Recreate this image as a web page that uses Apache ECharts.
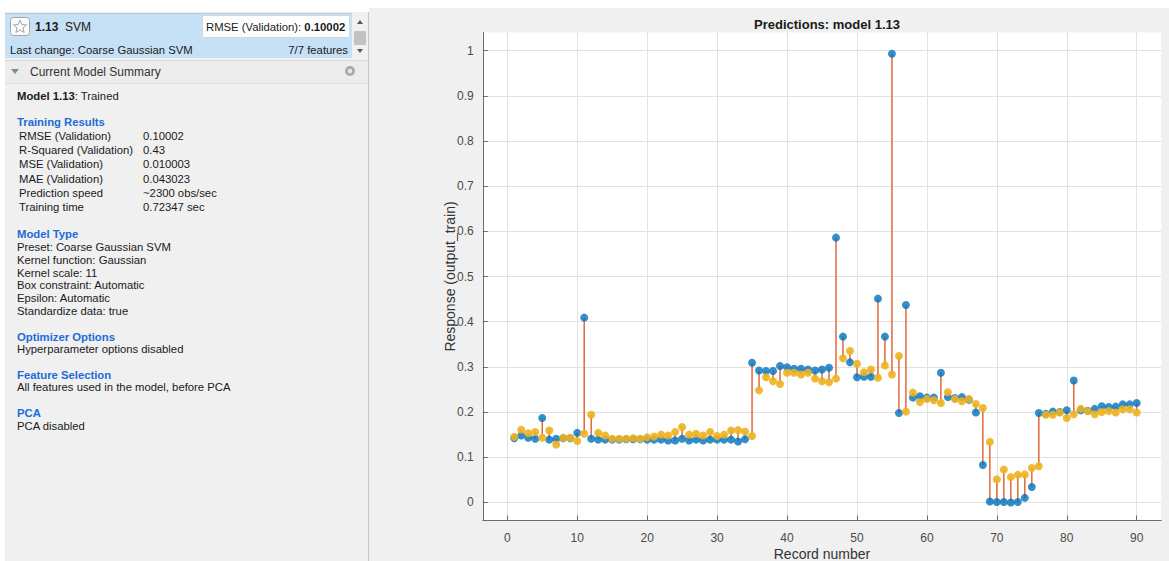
<!DOCTYPE html>
<html>
<head>
<meta charset="utf-8">
<title>Predictions: model 1.13</title>
<script src="https://cdn.jsdelivr.net/npm/echarts@6/dist/echarts.min.js"></script>
<style>
  html, body { margin: 0; padding: 0; background: #fff; }
  body { width: 1169px; height: 561px; overflow: hidden; position: relative;
         font-family: "Liberation Sans", Arial, sans-serif; color: #1a1a1a; }
  #left { position: absolute; left: 5px; top: 12px; width: 363px; height: 549px;
          background: #f0f0f0; border-right: 1px solid #c8c8c8; }
  #hdr { position: absolute; left: 5px; top: 13px; width: 347px; height: 44px;
         background: #c6e0f5; border-top: 1px solid #b5c9d9; }
  #scroll { position: absolute; left: 352px; top: 13px; width: 16px; height: 45px; background: #f0f0f0; }
  .t { position: absolute; white-space: nowrap; font-size: 11.3px; line-height: 14px; height: 14px; }
  .b { font-weight: bold; }
  .h { font-weight: bold; color: #1c6cd6; }
  #right { position: absolute; left: 369px; top: 8px; width: 800px; height: 553px; background: #f0f0f0; }
  #chart { position: absolute; left: 369px; top: 8px; width: 800px; height: 553px; }
  #sumrow { position: absolute; left: 5px; top: 60px; width: 363px; height: 22px; background: #ececec;
            border-top: 1px solid #d8d8d8; border-bottom: 1px solid #dedede; }
</style>
</head>
<body>
<div id="left"></div>
<div id="hdr"></div>
<div id="scroll">
  <svg width="16" height="45" style="position:absolute;left:0;top:0">
    <polygon points="5,11 11,11 8,7" fill="#555"/>
    <rect x="2" y="18" width="12" height="14" fill="#c2c2c2"/>
    <polygon points="5,36 11,36 8,40" fill="#555"/>
  </svg>
</div>
<!-- favourite star button -->
<svg width="21" height="20" style="position:absolute;left:10px;top:17px">
  <rect x="0.5" y="0.5" width="19" height="18" rx="3" ry="3" fill="#fbfbfb" stroke="#a5a5a5"/>
  <polygon points="10,3.2 11.9,7.6 16.5,7.9 13,10.9 14.1,15.4 10,13 5.9,15.4 7,10.9 3.5,7.9 8.1,7.6"
           fill="none" stroke="#9a9a9a" stroke-width="0.9"/>
</svg>
<div class="t" style="left:35px;top:20px;font-size:12px"><span class="b">1.13</span>&nbsp; SVM</div>
<div style="position:absolute;left:202px;top:15px;width:146px;height:21px;background:#fff;border:1px solid #cfd8e0"></div>
<div class="t" style="left:206px;top:20px;font-size:11.3px">RMSE (Validation): <span class="b">0.10002</span></div>
<div class="t" style="left:10px;top:43px">Last change: Coarse Gaussian SVM</div>
<div class="t" style="left:248px;width:100px;text-align:right;top:43px">7/7 features</div>

<div id="sumrow"></div>
<svg width="10" height="8" style="position:absolute;left:10px;top:68px"><polygon points="1,1 9,1 5,6" fill="#8a8a8a"/></svg>
<div class="t" style="left:30px;top:65px;font-size:12px;color:#333">Current Model Summary</div>
<svg width="12" height="12" style="position:absolute;left:344px;top:65px">
  <circle cx="6" cy="6" r="5" fill="#a9a9a9"/><circle cx="6" cy="6" r="2.2" fill="#e8e8e8"/>
</svg>

<div class="t" style="left:17px;top:89px"><span class="b">Model 1.13</span>: Trained</div>

<div class="t h" style="left:17px;top:115px">Training Results</div>
<div class="t" style="left:19px;top:129px">RMSE (Validation)</div><div class="t" style="left:143px;top:129px">0.10002</div>
<div class="t" style="left:19px;top:143px">R-Squared (Validation)</div><div class="t" style="left:143px;top:143px">0.43</div>
<div class="t" style="left:19px;top:157px">MSE (Validation)</div><div class="t" style="left:143px;top:157px">0.010003</div>
<div class="t" style="left:19px;top:172px">MAE (Validation)</div><div class="t" style="left:143px;top:172px">0.043023</div>
<div class="t" style="left:19px;top:186px">Prediction speed</div><div class="t" style="left:143px;top:186px">~2300 obs/sec</div>
<div class="t" style="left:19px;top:200px">Training time</div><div class="t" style="left:143px;top:200px">0.72347 sec</div>

<div class="t h" style="left:17px;top:227px">Model Type</div>
<div class="t" style="left:17px;top:240px">Preset: Coarse Gaussian SVM</div>
<div class="t" style="left:17px;top:253px">Kernel function: Gaussian</div>
<div class="t" style="left:17px;top:266px">Kernel scale: 11</div>
<div class="t" style="left:17px;top:278px">Box constraint: Automatic</div>
<div class="t" style="left:17px;top:291px">Epsilon: Automatic</div>
<div class="t" style="left:17px;top:304px">Standardize data: true</div>

<div class="t h" style="left:17px;top:330px">Optimizer Options</div>
<div class="t" style="left:17px;top:342px">Hyperparameter options disabled</div>

<div class="t h" style="left:17px;top:368px">Feature Selection</div>
<div class="t" style="left:17px;top:380px">All features used in the model, before PCA</div>

<div class="t h" style="left:17px;top:406px">PCA</div>
<div class="t" style="left:17px;top:419px">PCA disabled</div>

<div id="right"></div>
<div id="chart"></div>

<script>
// Record numbers of the training observations
const recordNumbers = [
  1, 2, 3, 4, 5, 6, 7, 8, 9, 10, 11, 12, 13, 14, 15, 16, 17, 18, 19, 20,
  21, 22, 23, 24, 25, 26, 27, 28, 29, 30, 31, 32, 33, 34, 35, 36, 37, 38, 39, 40,
  41, 42, 43, 44, 45, 46, 47, 48, 49, 50, 51, 52, 53, 54, 55, 56, 57, 58, 59, 60,
  61, 62, 63, 64, 65, 66, 67, 68, 69, 70, 71, 72, 73, 74, 75, 76, 77, 78, 79, 80,
  81, 82, 83, 84, 85, 86, 87, 88, 89, 90
];

// True response (output_train)
const trueResponse = [
  0.142, 0.148, 0.143, 0.141, 0.187, 0.139, 0.141, 0.142, 0.142, 0.154,
  0.409, 0.141, 0.139, 0.139, 0.139, 0.139, 0.140, 0.140, 0.140, 0.139,
  0.139, 0.139, 0.137, 0.137, 0.141, 0.137, 0.139, 0.137, 0.139, 0.139,
  0.139, 0.139, 0.135, 0.140, 0.309, 0.292, 0.291, 0.291, 0.302, 0.299,
  0.296, 0.296, 0.294, 0.292, 0.294, 0.298, 0.586, 0.367, 0.310, 0.277,
  0.278, 0.278, 0.451, 0.367, 0.993, 0.198, 0.437, 0.232, 0.235, 0.232,
  0.232, 0.287, 0.233, 0.231, 0.233, 0.227, 0.199, 0.083, 0.002, 0.001,
  0.001, 0.000, 0.001, 0.010, 0.034, 0.198, 0.196, 0.201, 0.200, 0.204,
  0.270, 0.204, 0.203, 0.207, 0.213, 0.211, 0.212, 0.217, 0.217, 0.220
];

// Predicted response of model 1.13 (Coarse Gaussian SVM)
const predictedResponse = [
  0.145, 0.161, 0.153, 0.156, 0.143, 0.159, 0.128, 0.143, 0.143, 0.136,
  0.152, 0.194, 0.154, 0.148, 0.141, 0.141, 0.141, 0.142, 0.141, 0.144,
  0.146, 0.150, 0.148, 0.156, 0.167, 0.150, 0.152, 0.148, 0.156, 0.147,
  0.150, 0.159, 0.160, 0.157, 0.147, 0.248, 0.277, 0.268, 0.262, 0.287,
  0.287, 0.283, 0.287, 0.274, 0.268, 0.266, 0.274, 0.319, 0.335, 0.307,
  0.288, 0.294, 0.276, 0.303, 0.283, 0.324, 0.201, 0.243, 0.222, 0.229,
  0.226, 0.220, 0.244, 0.229, 0.224, 0.229, 0.218, 0.209, 0.134, 0.051,
  0.073, 0.056, 0.061, 0.062, 0.076, 0.080, 0.194, 0.194, 0.199, 0.187,
  0.195, 0.207, 0.202, 0.195, 0.200, 0.202, 0.199, 0.206, 0.206, 0.199
];

// Axis tick values
const xTicks = [0, 10, 20, 30, 40, 50, 60, 70, 80, 90];
const yTicks = [0, 0.1, 0.2, 0.3, 0.4, 0.5, 0.6, 0.7, 0.8, 0.9, 1];

const trueData = recordNumbers.map((r, i) => [r, trueResponse[i]]);
const predData = recordNumbers.map((r, i) => [r, predictedResponse[i]]);
const errData = recordNumbers.map((r, i) => [r, trueResponse[i], predictedResponse[i]]);

const axisColor = '#6b6b6b';
const labelColor = '#4a4a4a';
const gridColor = '#e2e2e2';

const chart = echarts.init(document.getElementById('chart'), null, { renderer: 'svg' });

chart.setOption({
  animation: false,
  backgroundColor: 'transparent',
  title: {
    text: 'Predictions: model 1.13',
    left: 453,
    top: 5,
    textAlign: 'center',
    textStyle: { fontFamily: 'Liberation Sans', fontSize: 13, fontWeight: 'bold', color: '#1a1a1a' }
  },
  grid: {
    left: 113.8, right: 7.8, top: 24.5, bottom: 40.5,
    outerBoundsMode: 'none',
    containLabel: false,
    show: true, backgroundColor: '#ffffff', borderWidth: 0
  },
  xAxis: {
    type: 'value',
    min: -3.5, max: 93.5,
    name: 'Record number',
    nameLocation: 'middle',
    nameGap: 26,
    nameMoveOverlap: false,
    nameTextStyle: { fontFamily: 'Liberation Sans', fontSize: 14, color: '#333' },
    axisLine: { show: true, onZero: false, lineStyle: { color: axisColor, width: 1 } },
    axisTick: { show: true, inside: true, length: 5, customValues: xTicks, lineStyle: { color: axisColor } },
    axisLabel: {
      customValues: xTicks, margin: 11, color: labelColor,
      fontFamily: 'Liberation Sans', fontSize: 12
    },
    splitLine: { show: true, lineStyle: { color: gridColor, width: 1 } }
  },
  yAxis: {
    type: 'value',
    min: -0.04, max: 1.04,
    name: 'Response (output_train)',
    nameLocation: 'middle',
    nameGap: 26,
    nameMoveOverlap: false,
    nameTextStyle: { fontFamily: 'Liberation Sans', fontSize: 14, color: '#333' },
    axisLine: { show: true, onZero: false, lineStyle: { color: axisColor, width: 1 } },
    axisTick: { show: true, inside: true, length: 5, customValues: yTicks, lineStyle: { color: axisColor } },
    axisLabel: {
      customValues: yTicks, margin: 9, color: labelColor,
      fontFamily: 'Liberation Sans', fontSize: 12,
      formatter: v => String(Math.round(v * 10) / 10)
    },
    splitLine: { show: true, lineStyle: { color: gridColor, width: 1 } }
  },
  series: [
    {
      name: 'Errors',
      type: 'custom',
      z: 1,
      data: errData,
      encode: { x: 0, y: [1, 2] },
      renderItem: function (params, api) {
        const x = api.value(0);
        const p1 = api.coord([x, api.value(1)]);
        const p2 = api.coord([x, api.value(2)]);
        return {
          type: 'line',
          shape: { x1: p1[0], y1: p1[1], x2: p2[0], y2: p2[1] },
          style: { stroke: '#E2683A', lineWidth: 1.5 }
        };
      }
    },
    {
      name: 'True',
      type: 'scatter',
      z: 2,
      data: trueData,
      symbol: 'circle',
      symbolSize: 8,
      itemStyle: { color: '#0072BD' }
    },
    {
      name: 'Predicted',
      type: 'scatter',
      z: 3,
      data: predData,
      symbol: 'circle',
      symbolSize: 8,
      itemStyle: { color: '#EDB120', opacity: 0.9 }
    }
  ]
});
</script>
</body>
</html>
